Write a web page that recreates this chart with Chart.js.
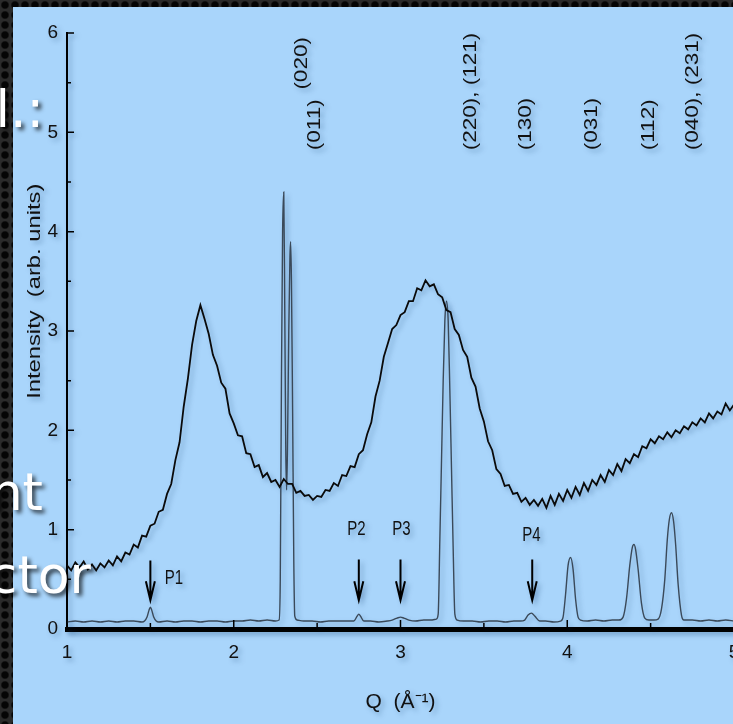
<!DOCTYPE html>
<html>
<head>
<meta charset="utf-8">
<script src="https://cdn.jsdelivr.net/npm/chart.js@4.4.1/dist/chart.umd.min.js"></script>
<style>
  html, body { margin: 0; padding: 0; width: 733px; height: 724px; overflow: hidden; }
  body {
    position: relative;
    background-color: #2b2b2b;
    background-image: radial-gradient(circle, #050505 0, #050505 3px, #2b2b2b 4.5px);
    background-size: 10px 10px;
  }
  #plot { position: absolute; left: 13px; top: 7px; background: #a9d5fb; }
  .slide {
    position: absolute; color: #fff; white-space: nowrap; text-align: right;
    font-family: "DejaVu Sans", sans-serif; font-size: 52px; line-height: 52px;
    text-shadow: 3px 3px 4px rgba(0, 0, 0, 0.75);
  }
</style>
</head>
<body>
<canvas id="plot" width="747" height="717"></canvas>
<div class="slide" style="left:-160px; width:204px; top:83px;">l.:</div>
<div class="slide" style="left:-160px; width:203px; top:466px;">nt</div>
<div class="slide" style="left:-160px; width:251px; top:549px;">ctor</div>
<script>
// broad (amorphous) curve, read every 0.025 from Q = 1 to 5
const broadStart = 1.0;
const broadStep = 0.025;
const broadI = [
  0.64, 0.59, 0.67, 0.62, 0.68, 0.60, 0.65, 0.59,   // 1.0
  0.66, 0.62, 0.69, 0.64, 0.73, 0.68, 0.77, 0.75,   // 1.2
  0.85, 0.82, 0.94, 0.93, 1.04, 1.06, 1.18, 1.20,   // 1.4
  1.36, 1.46, 1.70, 1.88, 2.24, 2.52, 2.86, 3.10,   // 1.6
  3.26, 3.12, 2.97, 2.76, 2.65, 2.48, 2.42, 2.17,   // 1.8
  2.07, 1.95, 1.94, 1.77, 1.76, 1.63, 1.65, 1.53,   // 2.0
  1.57, 1.48, 1.50, 1.43, 1.51, 1.46, 1.46, 1.37,   // 2.2
  1.39, 1.34, 1.35, 1.30, 1.34, 1.33, 1.40, 1.39,   // 2.4
  1.47, 1.44, 1.55, 1.54, 1.64, 1.63, 1.76, 1.80,   // 2.6
  1.96, 2.08, 2.34, 2.50, 2.74, 2.88, 3.02, 3.06,   // 2.8
  3.16, 3.19, 3.30, 3.30, 3.43, 3.41, 3.51, 3.45,   // 3.0
  3.47, 3.37, 3.34, 3.21, 3.19, 3.02, 2.96, 2.81,   // 3.2
  2.74, 2.53, 2.44, 2.22, 2.09, 1.89, 1.80, 1.61,   // 3.4
  1.56, 1.44, 1.45, 1.36, 1.37, 1.28, 1.32, 1.25,   // 3.6
  1.30, 1.24, 1.31, 1.22, 1.34, 1.25, 1.36, 1.29,   // 3.8
  1.40, 1.32, 1.43, 1.35, 1.47, 1.39, 1.50, 1.45,   // 4.0
  1.55, 1.48, 1.60, 1.55, 1.66, 1.59, 1.71, 1.67,   // 4.2
  1.76, 1.73, 1.84, 1.82, 1.91, 1.87, 1.94, 1.91,   // 4.4
  1.98, 1.93, 2.00, 1.97, 2.04, 2.01, 2.08, 2.05,   // 4.6
  2.12, 2.08, 2.17, 2.12, 2.19, 2.16, 2.27, 2.20,   // 4.8
  2.26                                              // 5.0
];

// crystalline pattern with sharp Bragg peaks
const peakQ = [
  1.00, 1.05, 1.10, 1.15, 1.20, 1.25, 1.30, 1.35, 1.40, 1.45, 1.465, 1.48, 1.492, 1.50, 1.508, 1.52, 1.535, 1.55, 1.60, 1.65, 1.70, 1.75, 1.80, 1.85, 1.90, 1.95, 2.00, 2.05, 2.10, 2.15, 2.20, 2.25,
  2.272, 2.279, 2.286, 2.293, 2.300, 2.306, 2.312, 2.317, 2.322, 2.330, 2.337, 2.341, 2.346, 2.353, 2.360, 2.366, 2.380,
  2.42, 2.47, 2.52, 2.57, 2.62, 2.67, 2.72, 2.74, 2.75, 2.76, 2.78, 2.82, 2.87, 2.92, 2.95, 2.98, 3.00, 3.02, 3.05, 3.09, 3.14, 3.18, 3.215,
  3.226, 3.236, 3.246, 3.256, 3.266, 3.276, 3.286, 3.296, 3.306, 3.316, 3.326, 3.340,
  3.38, 3.43, 3.48, 3.53, 3.58, 3.63, 3.68, 3.72, 3.745, 3.765, 3.786, 3.805, 3.835, 3.87, 3.92, 3.96,
  3.975, 3.99, 4.005, 4.02, 4.035, 4.05, 4.065, 4.08,
  4.12, 4.17, 4.22, 4.27, 4.31,
  4.335, 4.355, 4.375, 4.39, 4.40, 4.41, 4.425, 4.445, 4.465,
  4.49, 4.52, 4.545,
  4.565, 4.585, 4.60, 4.612, 4.625, 4.638, 4.65, 4.665, 4.685, 4.70,
  4.75, 4.80, 4.85, 4.90, 4.95, 5.00
];
const peakI = [
  0.07, 0.08, 0.07, 0.08, 0.07, 0.08, 0.07, 0.08, 0.08, 0.07, 0.08, 0.12, 0.19, 0.22, 0.19, 0.12, 0.08, 0.07, 0.08, 0.07, 0.08, 0.08, 0.07, 0.08, 0.08, 0.07, 0.08, 0.08, 0.09, 0.08, 0.09, 0.08,
  0.09, 0.50, 2.50, 4.00, 4.40, 3.20, 1.80, 1.40, 1.80, 3.00, 3.75, 3.90, 3.50, 2.20, 0.70, 0.13, 0.09,
  0.08, 0.08, 0.07, 0.08, 0.08, 0.08, 0.08, 0.13, 0.15, 0.13, 0.08, 0.08, 0.07, 0.08, 0.09, 0.11, 0.12, 0.11, 0.09, 0.08, 0.09, 0.09, 0.10,
  0.15, 0.90, 1.70, 2.50, 3.10, 3.30, 3.10, 2.40, 1.60, 0.80, 0.15, 0.09,
  0.08, 0.08, 0.07, 0.08, 0.08, 0.07, 0.08, 0.08, 0.09, 0.14, 0.16, 0.13, 0.08, 0.08, 0.07, 0.08,
  0.12, 0.35, 0.64, 0.72, 0.60, 0.30, 0.12, 0.09,
  0.08, 0.09, 0.08, 0.09, 0.09,
  0.12, 0.30, 0.64, 0.82, 0.85, 0.80, 0.60, 0.26, 0.11,
  0.09, 0.09, 0.10,
  0.20, 0.50, 0.90, 1.10, 1.17, 1.08, 0.85, 0.45, 0.14, 0.09,
  0.09, 0.08, 0.09, 0.08, 0.09, 0.08
];

const xTicks = [1, 2, 3, 4, 5];
const xMinor = [1.5, 2.5, 3.5, 4.5];
const yTicks = [0, 1, 2, 3, 4, 5, 6];
const yMinor = [0.5, 1.5, 2.5, 3.5, 4.5, 5.5];

// Miller index labels above the peaks
const hklText = ['(011)', '(020)', '(220), (121)', '(130)', '(031)', '(112)', '(040), (231)'];
const hklQ = [2.487, 2.409, 3.422, 3.752, 4.147, 4.489, 4.753];
const hklFrom = [4.82, 5.43, 4.82, 4.82, 4.82, 4.82, 4.82];

// weak peaks marked with arrows
const markText = ['P1', 'P2', 'P3', 'P4'];
const markQ = [1.5, 2.75, 3.0, 3.79];
const markTop = [0.69, 0.70, 0.70, 0.70];
const markTip = [0.29, 0.29, 0.29, 0.29];
const markLabelQ = [1.641, 2.736, 3.005, 3.785];
const markLabelI = [0.51, 1.0, 1.0, 0.94];

const yTitle = 'Intensity  (arb. units)';
const yTitleAt = 3.4;

const FONT = '"Liberation Sans", Arial, sans-serif';

const broadData = broadI.map((v, i) => ({ x: +(broadStart + i * broadStep).toFixed(3), y: v }));
const peakData = peakQ.map((q, i) => ({ x: q, y: peakI[i] }));

function stretchText(c, text, x, y, rot, sx, sy, align) {
  c.save();
  c.translate(x, y);
  c.rotate(rot);
  c.scale(sx, sy);
  c.textAlign = align;
  c.textBaseline = 'middle';
  c.fillText(text, 0, 0);
  c.restore();
}

const figureExtras = {
  id: 'figureExtras',
  beforeDraw(chart) {
    const c = chart.ctx;
    c.save();
    c.shadowColor = 'rgba(20, 60, 110, 0.35)';
    c.shadowBlur = 5;
    c.shadowOffsetX = 3;
    c.shadowOffsetY = 3;
  },
  afterDraw(chart) {
    const c = chart.ctx;
    const xs = chart.scales.x;
    const ys = chart.scales.y;
    const ca = chart.chartArea;

    // inward tick marks
    c.strokeStyle = '#000';
    c.lineWidth = 1.5;
    c.beginPath();
    yTicks.forEach(v => { const p = ys.getPixelForValue(v); c.moveTo(ca.left, p); c.lineTo(ca.left + 7, p); });
    yMinor.forEach(v => { const p = ys.getPixelForValue(v); c.moveTo(ca.left, p); c.lineTo(ca.left + 4, p); });
    xTicks.forEach(v => { const p = xs.getPixelForValue(v); c.moveTo(p, ca.bottom - 2); c.lineTo(p, ca.bottom - 9); });
    xMinor.forEach(v => { const p = xs.getPixelForValue(v); c.moveTo(p, ca.bottom - 2); c.lineTo(p, ca.bottom - 6); });
    c.stroke();

    c.fillStyle = '#111';

    // y axis title
    c.font = '19px ' + FONT;
    stretchText(c, yTitle, ca.left - 32, ys.getPixelForValue(yTitleAt), -Math.PI / 2, 1.25, 1, 'center');

    // hkl labels
    c.font = '18px ' + FONT;
    hklText.forEach((t, k) => {
      stretchText(c, t, xs.getPixelForValue(hklQ[k]), ys.getPixelForValue(hklFrom[k]), -Math.PI / 2, 1.25, 1, 'left');
    });

    // arrows + P labels
    c.strokeStyle = '#000';
    c.lineWidth = 2;
    markQ.forEach((q, k) => {
      const x = xs.getPixelForValue(q);
      const yTop = ys.getPixelForValue(markTop[k]);
      const yTip = ys.getPixelForValue(markTip[k]);
      c.beginPath();
      c.moveTo(x, yTop);
      c.lineTo(x, yTip);
      c.moveTo(x - 4.5, yTip - 19);
      c.lineTo(x, yTip);
      c.lineTo(x + 4.5, yTip - 19);
      c.stroke();
    });
    c.font = '15px ' + FONT;
    markText.forEach((t, k) => {
      stretchText(c, t, xs.getPixelForValue(markLabelQ[k]), ys.getPixelForValue(markLabelI[k]), 0, 1, 1.3, 'center');
    });

    c.restore();
  }
};

const ctx = document.getElementById('plot').getContext('2d');
const chart = new Chart(ctx, {
  type: 'line',
  data: {
    datasets: [
      {
        label: 'amorphous',
        data: broadData,
        borderColor: '#0a0a0a',
        borderWidth: 1.8,
        pointRadius: 0,
        tension: 0
      },
      {
        label: 'crystalline',
        data: peakData,
        borderColor: '#3a4959',
        borderWidth: 1.4,
        pointRadius: 0,
        cubicInterpolationMode: 'monotone'
      }
    ]
  },
  options: {
    responsive: false,
    animation: false,
    events: [],
    layout: { padding: { top: 26, right: 26, left: 0, bottom: 0 } },
    plugins: { legend: { display: false }, tooltip: { enabled: false } },
    scales: {
      x: {
        type: 'linear',
        min: 1,
        max: 5,
        afterBuildTicks: s => { s.ticks = xTicks.map(v => ({ value: v })); },
        afterFit: s => { s.height = 95; },
        ticks: { color: '#111', font: { family: FONT, size: 19 }, padding: 12, maxRotation: 0, autoSkip: false },
        grid: { display: false, drawTicks: false },
        border: { display: true, color: '#000', width: 5 },
        title: { display: true, text: 'Q  (Å⁻¹)', color: '#111', font: { family: FONT, size: 21 }, padding: { top: 0, bottom: 9 } }
      },
      y: {
        min: 0,
        max: 6,
        afterBuildTicks: s => { s.ticks = yTicks.map(v => ({ value: v })); },
        afterFit: s => { s.width = 54; },
        ticks: { color: '#111', font: { family: FONT, size: 19 }, padding: 9 },
        grid: { display: false, drawTicks: false },
        border: { display: true, color: '#000', width: 2 }
      }
    }
  },
  plugins: [figureExtras]
});
</script>
</body>
</html>
